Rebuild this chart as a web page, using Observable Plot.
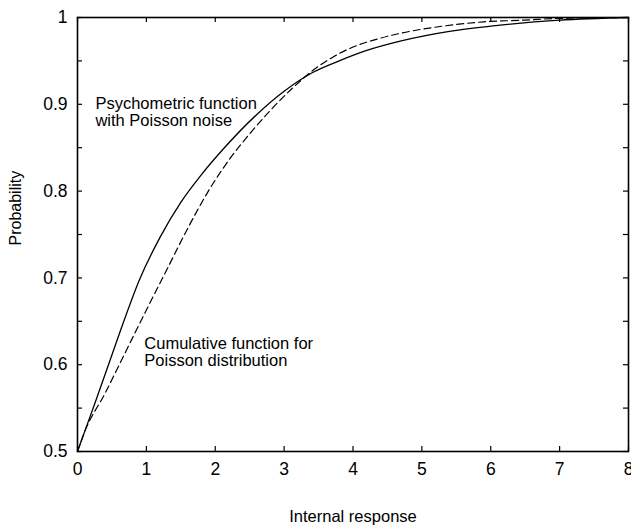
<!DOCTYPE html>
<html>
<head>
<meta charset="utf-8">
<script src="https://cdn.jsdelivr.net/npm/d3@7"></script>
<script src="https://cdn.jsdelivr.net/npm/@observablehq/plot@0.6"></script>
<style>
  html, body { margin: 0; padding: 0; background: #fff; }
  svg { display: block; }
</style>
</head>
<body>
<div id="chart"></div>
<script>
// Psychometric function with Poisson noise (solid)
const psychX = [0, 0.1, 0.25, 0.45, 0.6, 0.9, 1.2, 1.5, 1.8, 2.1, 2.6, 3.0, 3.4, 3.8, 4.2, 4.7, 5.4, 6.0, 7.0, 8];
const psychY = [0.5, 0.522, 0.555, 0.6, 0.634, 0.698, 0.747, 0.787, 0.819, 0.847, 0.888, 0.915, 0.936, 0.950, 0.962, 0.973, 0.984, 0.990, 0.997, 1.0];

// Cumulative function for Poisson distribution (dashed)
const cumX = [0, 0.1, 0.4, 0.7, 1.0, 1.3, 1.6, 1.9, 2.2, 2.5, 2.8, 3.1, 3.4, 3.7, 4.0, 4.3, 4.7, 5.3, 5.9, 6.5, 7, 8];
const cumY = [0.5, 0.522, 0.567, 0.615, 0.663, 0.710, 0.757, 0.800, 0.836, 0.866, 0.893, 0.917, 0.938, 0.954, 0.966, 0.974, 0.982, 0.990, 0.995, 0.997, 0.999, 1.0];

const xTicks = [0, 1, 2, 3, 4, 5, 6, 7, 8];
const yTicks = [0.5, 0.6, 0.7, 0.8, 0.9, 1];
const yMinorTicks = [0.5, 0.55, 0.6, 0.65, 0.7, 0.75, 0.8, 0.85, 0.9, 0.95, 1];
const yTickLabels = ["0.5", "0.6", "0.7", "0.8", "0.9", "1"];

const annotText = ["Psychometric function\nwith Poisson noise", "Cumulative function for\nPoisson distribution"];
const annotX = [0.26, 0.97];
const annotY = [0.908, 0.6325];

const xLabel = "Internal response";
const yLabel = "Probability";

const psych = psychX.map((x, i) => ({x, y: psychY[i]}));
const cum = cumX.map((x, i) => ({x, y: cumY[i]}));
const annots = annotText.map((t, i) => ({t, x: annotX[i], y: annotY[i]}));

const W = 631, H = 525;
const mL = 77, mT = 17, mR = 3, mB = 74;
const tickPx = 5;
const xPer = (8 - 0) / (W - mL - mR);
const yPer = (1 - 0.5) / (H - mT - mB);
const tx = tickPx * xPer, ty = tickPx * yPer;

const font = "'Liberation Sans', Arial, Helvetica, sans-serif";

const chart = Plot.plot({
  width: W,
  height: H,
  marginLeft: mL,
  marginTop: mT,
  marginRight: mR,
  marginBottom: mB,
  style: {fontFamily: font, fontSize: "17px", color: "#000", background: "#fff"},
  x: {domain: [0, 8]},
  y: {domain: [0.5, 1]},
  marks: [
    Plot.axisX(xTicks, {tickSize: 0, tickPadding: 11, fontSize: 17.5, label: null}),
    Plot.axisY(yTicks, {tickSize: 0, tickPadding: 10, fontSize: 17.5, label: null, tickFormat: d => yTickLabels[yTicks.indexOf(d)]}),
    // inward ticks
    Plot.ruleX(xTicks, {x: d => d, y1: 0.5, y2: 0.5 + ty, stroke: "#000", strokeWidth: 1.2}),
    Plot.ruleX(xTicks, {x: d => d, y1: 1, y2: 1 - ty, stroke: "#000", strokeWidth: 1.2}),
    Plot.ruleY(yMinorTicks, {y: d => d, x1: 0, x2: tx, stroke: "#000", strokeWidth: 1.2}),
    Plot.ruleY(yMinorTicks, {y: d => d, x1: 8, x2: 8 - tx, stroke: "#000", strokeWidth: 1.2}),
    Plot.lineY(psych, {x: "x", y: "y", stroke: "#000", strokeWidth: 1.3, curve: "monotone-x"}),
    Plot.lineY(cum, {x: "x", y: "y", stroke: "#000", strokeWidth: 1.2, strokeDasharray: "7,4", curve: "monotone-x"}),
    Plot.frame({stroke: "#000", strokeWidth: 1.6}),
    Plot.text(annots, {x: "x", y: "y", text: "t", textAnchor: "start", lineAnchor: "top", fontSize: 16.5, lineHeight: 1.03, fill: "#000"}),
    Plot.text([xLabel], {frameAnchor: "bottom", dy: 70, fontSize: 16.5, fill: "#000", lineAnchor: "bottom"}),
    Plot.text([yLabel], {frameAnchor: "left", dx: -62, dy: 11, rotate: -90, fontSize: 16, fill: "#000"})
  ]
});
document.getElementById("chart").appendChild(chart);
</script>
</body>
</html>
